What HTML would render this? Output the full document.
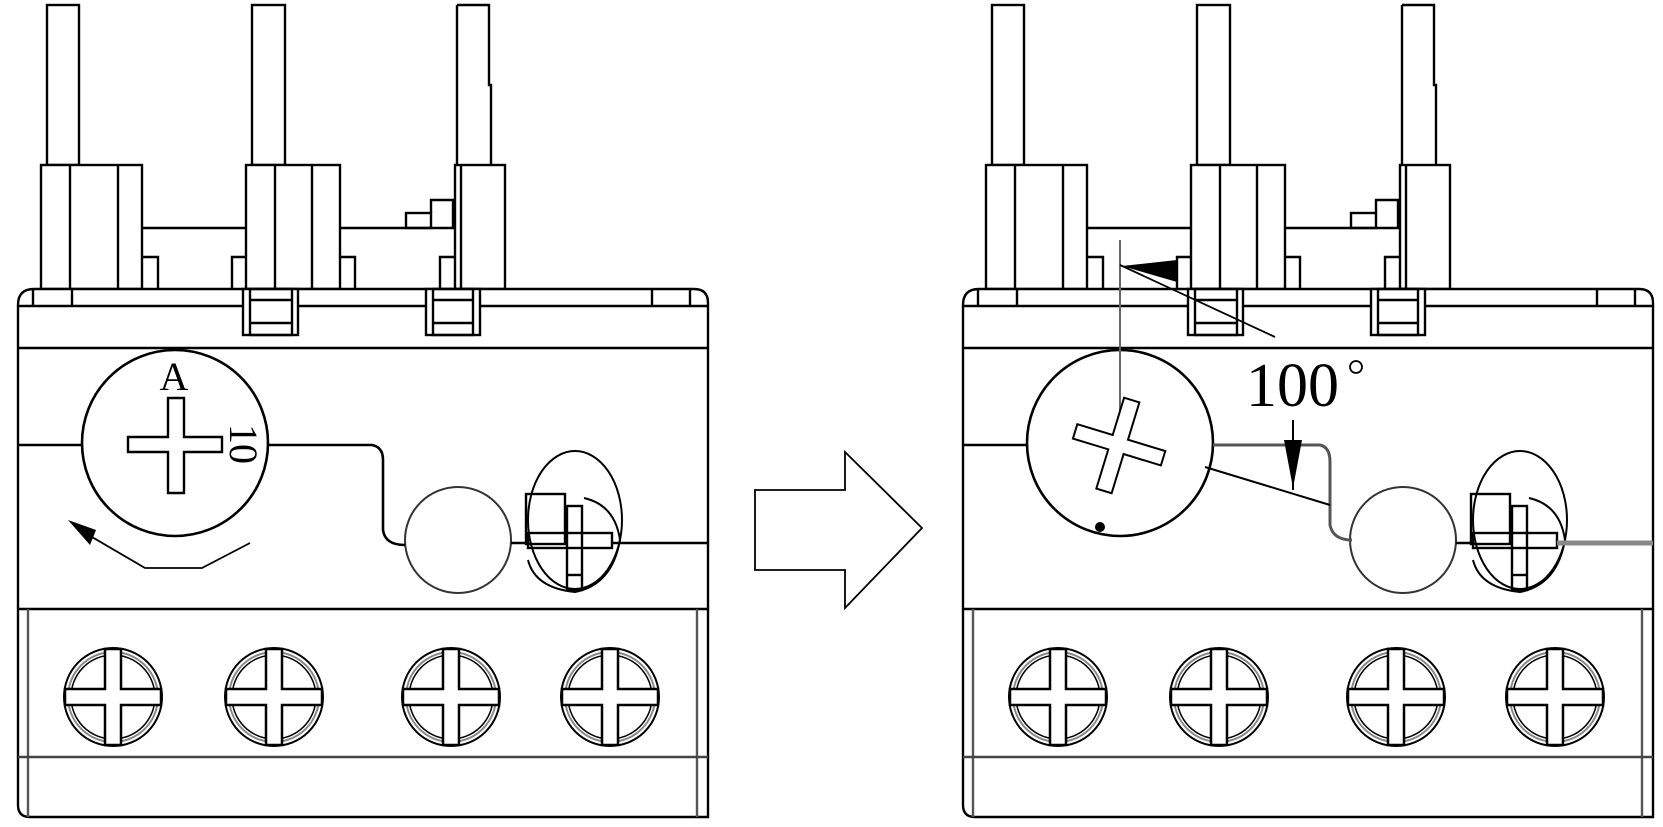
<!DOCTYPE html>
<html><head><meta charset="utf-8"><style>
html,body{margin:0;padding:0;background:#fff;}
svg{display:block;}
</style></head><body>
<svg width="1663" height="827" viewBox="0 0 1663 827" xmlns="http://www.w3.org/2000/svg">
<defs>
<g id="screw">
  <circle cx="0" cy="0" r="49" fill="none" stroke="#000" stroke-width="2"/>
  <circle cx="0" cy="0" r="45" fill="none" stroke="#888" stroke-width="2"/>
  <circle cx="0" cy="0" r="42" fill="none" stroke="#000" stroke-width="1.5"/>
  <path d="M-8,-48 L8,-48 L8,-8 L48,-8 L48,8 L8,8 L8,48 L-8,48 L-8,8 L-48,8 L-48,-8 L-8,-8 Z" fill="#fff" stroke="#000" stroke-width="2.5"/>
</g>
<g id="dev" fill="none" stroke="#000" stroke-width="2.4">
  <rect x="47" y="5" width="32" height="160" fill="#fff"/>
  <rect x="252" y="5" width="33" height="160" fill="#fff"/>
  <path d="M457,5 L489,5 L489,85 L491,85 L491,165 M457,5 L457,165"/>
  <rect x="41" y="165" width="101" height="124" fill="#fff"/>
  <line x1="70" y1="165" x2="70" y2="289"/><line x1="118" y1="165" x2="118" y2="289"/>
  <rect x="246" y="165" width="94" height="124" fill="#fff"/>
  <line x1="275" y1="165" x2="275" y2="289"/><line x1="312" y1="165" x2="312" y2="289"/>
  <rect x="455" y="165" width="50" height="124" fill="#fff"/>
  <line x1="461" y1="165" x2="461" y2="289"/>
  <path d="M142,228 L246,228 M142,257 L158,257 L158,289 M232,289 L232,257 L246,257"/>
  <path d="M340,228 L455,228 M340,257 L355,257 L355,289 M440,289 L440,257 L455,257"/>
  <rect x="406" y="213" width="25" height="15"/>
  <path d="M431,213 L431,200 L453,200 L453,228"/>
  <path d="M18,305 Q18,289 34,289 L694,289 Q708,289 708,303 L708,817 L30,817 Q18,817 18,805 Z" fill="#fff"/>
  <line x1="18" y1="306" x2="708" y2="306"/>
  <line x1="33" y1="289" x2="33" y2="306"/><line x1="72" y1="289" x2="72" y2="306"/>
  <line x1="652" y1="289" x2="652" y2="306"/><line x1="690" y1="289" x2="690" y2="306"/>
  <line x1="18" y1="348" x2="708" y2="348"/>
  <rect x="243" y="289" width="55" height="46" fill="#fff"/>
  <rect x="250" y="289" width="42" height="46"/>
  <line x1="250" y1="300" x2="292" y2="300"/><line x1="250" y1="323" x2="292" y2="323"/>
  <rect x="426" y="289" width="54" height="46" fill="#fff"/>
  <rect x="433" y="289" width="40" height="46"/>
  <line x1="433" y1="300" x2="473" y2="300"/><line x1="433" y1="323" x2="473" y2="323"/>
  <line x1="18" y1="609" x2="708" y2="609"/>
  <line x1="28" y1="609" x2="28" y2="817" stroke="#555"/>
  <line x1="697" y1="609" x2="697" y2="817" stroke="#555"/>
  <line x1="18" y1="757" x2="708" y2="757" stroke="#444"/>
  <use href="#screw" x="113" y="697"/>
  <use href="#screw" x="274" y="697"/>
  <use href="#screw" x="451" y="697"/>
  <use href="#screw" x="610" y="697"/>
  <circle cx="175" cy="443" r="93" stroke-width="2.6"/>
  <circle cx="458" cy="540" r="53" stroke="#333" stroke-width="2"/>
  <ellipse cx="575" cy="520" rx="47" ry="69" stroke-width="2"/>
  <path d="M584,498 Q615,505 620,540 Q612,585 575,592 Q535,588 528,560" stroke-width="2"/>
  <rect x="526" y="494" width="39" height="50"/>
  <rect x="567" y="506" width="15" height="84"/>
  <rect x="528" y="533" width="84" height="15"/>
  <line x1="567" y1="575" x2="582" y2="575"/>
  <line x1="511" y1="543" x2="528" y2="543"/>
</g>
</defs>

<use href="#dev" x="0" y="0"/>
<g fill="none" stroke="#000" stroke-width="2.6">
  <path d="M18,445 L82,445"/>
  <path d="M268,445 L372,445 Q383,447 383,460 L383,530 Q385,545 405,545"/>
  <line x1="612" y1="543" x2="708" y2="543"/>
  <path d="M128,437 L168,437 L168,398 L184,398 L184,437 L222,437 L222,452 L184,452 L184,493 L168,493 L168,452 L128,452 Z" fill="#fff" stroke-width="2.4"/>
  <path d="M250,543 L202,568 L145,568 L80,530" stroke-width="1.8"/>
</g>
<polygon points="68,520 96,530 90,545" fill="#000"/>
<text x="174" y="390" font-family="Liberation Serif, serif" font-size="40" text-anchor="middle">A</text>
<text transform="translate(230,444) rotate(90)" x="0" y="0" font-family="Liberation Serif, serif" font-size="40" text-anchor="middle">10</text>

<polygon points="755,490 845,490 845,452 922,528 845,608 845,570 755,570" fill="#fff" stroke="#000" stroke-width="1.8"/>

<use href="#dev" x="945" y="0"/>
<g fill="none" stroke="#000" stroke-width="2.6">
  <path d="M963,445 L1027,445"/>
  <path d="M1213,445 L1320,445 Q1330,447 1330,462 L1330,525 Q1333,540 1352,540" stroke="#555" stroke-width="3"/>
  <line x1="1557" y1="543" x2="1653" y2="543" stroke="#888" stroke-width="5"/>
  <line x1="1120" y1="240" x2="1120" y2="445" stroke="#666" stroke-width="2"/>
  <line x1="1120" y1="265" x2="1275" y2="337" stroke-width="1.8"/>
  <line x1="1205" y1="467" x2="1330" y2="505" stroke-width="2"/>
  <line x1="1293" y1="420" x2="1293" y2="490" stroke-width="2"/>
  <g transform="rotate(17 1118 445)">
    <path d="M1073,437 L1110,437 L1110,398 L1126,398 L1126,437 L1165,437 L1165,452 L1126,452 L1126,493 L1110,493 L1110,452 L1073,452 Z" fill="#fff" stroke-width="2"/>
  </g>
</g>
<polygon points="1122,266 1177,260 1177,282" fill="#000"/>
<polygon points="1284,440 1302,440 1293,488" fill="#000"/>
<circle cx="1100" cy="527" r="5" fill="#000"/>
<text x="1246" y="406" font-family="Liberation Serif, serif" font-size="62">100</text>
<circle cx="1356" cy="367" r="6" fill="none" stroke="#000" stroke-width="1.8"/>
</svg>
</body></html>
